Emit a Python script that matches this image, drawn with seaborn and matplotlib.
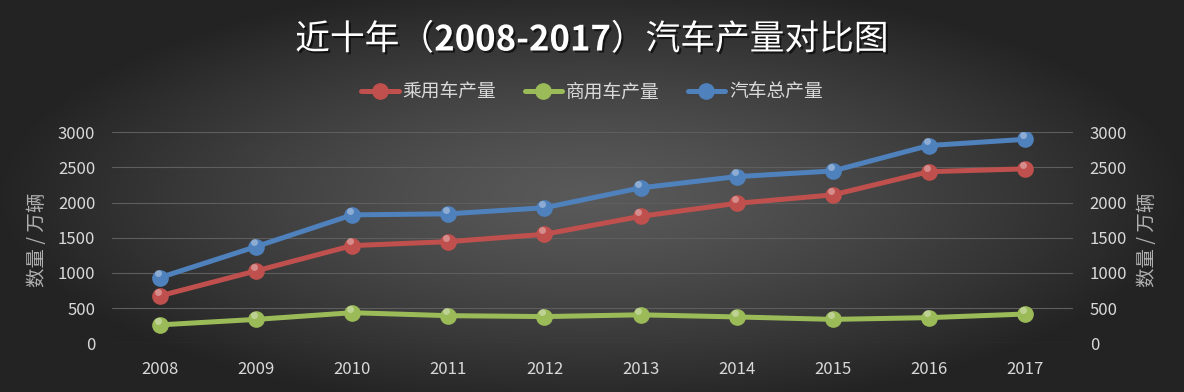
import numpy as np
import pandas as pd
import seaborn as sns
import matplotlib.pyplot as plt
import matplotlib.patheffects as pe
import matplotlib.transforms as mtransforms
from matplotlib.lines import Line2D

# données (万辆)
years = ['2008', '2009', '2010', '2011', '2012', '2013', '2014', '2015', '2016', '2017']
passenger = [675, 1030, 1389, 1445, 1550, 1805, 1990, 2110, 2440, 2480]   # 乘用车产量
commercial = [262, 340, 435, 393, 380, 405, 375, 340, 365, 416]          # 商用车产量
total = [935, 1375, 1826, 1841, 1927, 2210, 2370, 2450, 2812, 2900]      # 汽车总产量
series = ['乘用车产量', '商用车产量', '汽车总产量']
colors = ['#c0504d', '#9bbb59', '#4f81bd']
y_ticks = [0, 500, 1000, 1500, 2000, 2500, 3000]

df = pd.DataFrame({
    'year': years * 3,
    'value': passenger + commercial + total,
    'serie': [series[0]] * 10 + [series[1]] * 10 + [series[2]] * 10,
})

sns.set_theme(style='white')
plt.rcParams['font.family'] = ['Noto Sans CJK SC', 'DejaVu Sans']

fig = plt.figure(figsize=(11.84, 3.92), dpi=100)

# fond en dégradé radial (gris clair au centre, sombre sur les bords)
bg = fig.add_axes([0, 0, 1, 1], zorder=-1)
xx, yy = np.meshgrid(np.linspace(-1, 1, 600), np.linspace(-1, 1, 200))
r = np.clip(np.sqrt(xx ** 2 + (yy * 0.9) ** 2), 0, 1)
shade = 0.35 - 0.21 * r ** 1.3
bg.imshow(np.dstack([shade, shade, shade]), aspect='auto', extent=[0, 1, 0, 1])
bg.axis('off')

ax = fig.add_axes([112 / 1184, 1 - 343.3 / 392, 961 / 1184, 211 / 392])
ax.set_facecolor('none')

sns.lineplot(data=df, x='year', y='value', hue='serie', palette=colors, ax=ax,
             linewidth=3.6, marker='o', markersize=12, markeredgecolor='none',
             legend=False, sort=False)

# petit reflet sur les marqueurs pour imiter les sphères
shift = ax.transData + mtransforms.ScaledTranslation(-1.5 / 72, 3 / 72, fig.dpi_scale_trans)
for vals in [passenger, commercial, total]:
    ax.plot(range(10), vals, linestyle='none', marker='o', markersize=5,
            markerfacecolor='white', markeredgecolor='none', alpha=0.35, transform=shift)

ax.set_xlim(-0.5, 9.5)
ax.set_ylim(0, 3000)
ax.set_yticks(y_ticks)
ax.set_xlabel('')
ax.set_ylabel('')
ax.grid(axis='y', color='#5e5e5e', linewidth=0.8)
ax.grid(axis='x', visible=False)
sns.despine(ax=ax, left=True, bottom=True)
ax.tick_params(axis='both', length=0, colors='#d9d9d9', labelsize=12)
ax.tick_params(axis='y', pad=12, labelright=True)
ax.tick_params(axis='x', pad=13)

for xpos in [38, 1147]:
    fig.text(xpos / 1184, 1 - 240 / 392, '数量 / 万辆', rotation=90, ha='center', va='center',
             color='#b0b0b0', fontsize=14)

# titre : chiffres en gras, le reste normal
shadow = [pe.withSimplePatchShadow(offset=(1.5, -1.5), shadow_rgbFace='black', alpha=0.6)]
parts = [('近十年（', 'normal'), ('2008-2017', 'bold'), ('）汽车产量对比图', 'normal')]
texts = [fig.text(0, 1 - 40 / 392, s, ha='left', va='center', color='white', fontsize=25,
                  fontweight=w, path_effects=shadow) for s, w in parts]
renderer = fig.canvas.get_renderer()
widths = [t.get_window_extent(renderer).width for t in texts]
x0 = (1184 - sum(widths)) / 2
for t, w in zip(texts, widths):
    t.set_x(x0 / 1184)
    x0 += w

handles = [Line2D([], [], color=c, linewidth=3.6, marker='o', markersize=11) for c in colors]
fig.legend(handles, series, loc='center', bbox_to_anchor=(0.5, 1 - 92 / 392), ncol=3,
           frameon=False, fontsize=13.5, labelcolor='#d9d9d9', handlelength=2.0,
           handletextpad=0.2, columnspacing=1.5)

fig.savefig('out.png', dpi=100)
